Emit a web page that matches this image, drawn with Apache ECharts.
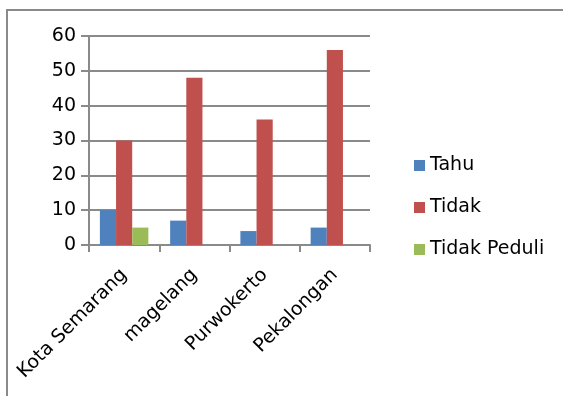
<!DOCTYPE html>
<html>
<head>
<meta charset="utf-8">
<script src="https://cdn.jsdelivr.net/npm/echarts@6/dist/echarts.min.js"></script>
<style>
html,body{margin:0;padding:0;background:#fff;}
#c{width:563px;height:396px;}
</style>
</head>
<body>
<div id="c"></div>
<script>
const categories = ['Kota Semarang', 'magelang', 'Purwokerto', 'Pekalongan'];
const seriesNames = ['Tahu', 'Tidak', 'Tidak Peduli'];
const tahu = [10, 7, 4, 5];
const tidak = [30, 48, 36, 56];
const tidakPeduli = [5, 0, 0, 0];
const yTicks = [0, 10, 20, 30, 40, 50, 60];
const colors = ['#4F81BD', '#C0504D', '#9BBB59'];

const FONT = 'DejaVu Sans';
const chart = echarts.init(document.getElementById('c'), null, {renderer: 'canvas'});
const seriesData = [tahu, tidak, tidakPeduli];
chart.setOption({
  animation: false,
  backgroundColor: '#fff',
  color: colors,
  textStyle: {fontFamily: FONT},
  graphic: [
    {type: 'line', shape: {x1: 6, y1: 10, x2: 563, y2: 10}, style: {stroke: '#8a8a8a', lineWidth: 2}},
    {type: 'line', shape: {x1: 7, y1: 10, x2: 7, y2: 396}, style: {stroke: '#8a8a8a', lineWidth: 2}}
  ],
  grid: {left: 89, right: 193, top: 36, bottom: 151, containLabel: false},
  legend: {
    orient: 'vertical',
    left: 409,
    top: 151,
    itemWidth: 11,
    itemHeight: 11,
    itemGap: 23,
    icon: 'rect',
    textStyle: {fontFamily: FONT, fontSize: 19, color: '#000'},
    data: seriesNames
  },
  xAxis: {
    type: 'category',
    data: categories,
    boundaryGap: true,
    axisLine: {lineStyle: {color: '#8a8a8a', width: 2}},
    axisTick: {show: true, alignWithLabel: false, length: 7, lineStyle: {color: '#8a8a8a', width: 2}},
    axisLabel: {rotate: 45, interval: 0, margin: 27, fontFamily: FONT, fontSize: 19, color: '#000'}
  },
  yAxis: {
    type: 'value',
    min: yTicks[0],
    max: yTicks[yTicks.length - 1],
    interval: 10,
    axisLine: {show: true, lineStyle: {color: '#8a8a8a', width: 2}},
    axisTick: {show: true, length: 8, lineStyle: {color: '#8a8a8a', width: 2}},
    axisLabel: {margin: 13, fontFamily: FONT, fontSize: 19, color: '#000'},
    splitLine: {show: true, lineStyle: {color: '#8a8a8a', width: 2}}
  },
  series: seriesNames.map((n, i) => ({
    name: n,
    type: 'bar',
    data: seriesData[i],
    barGap: '0%',
    barCategoryGap: '31%',
    itemStyle: {color: colors[i]}
  }))
});
</script>
</body>
</html>
